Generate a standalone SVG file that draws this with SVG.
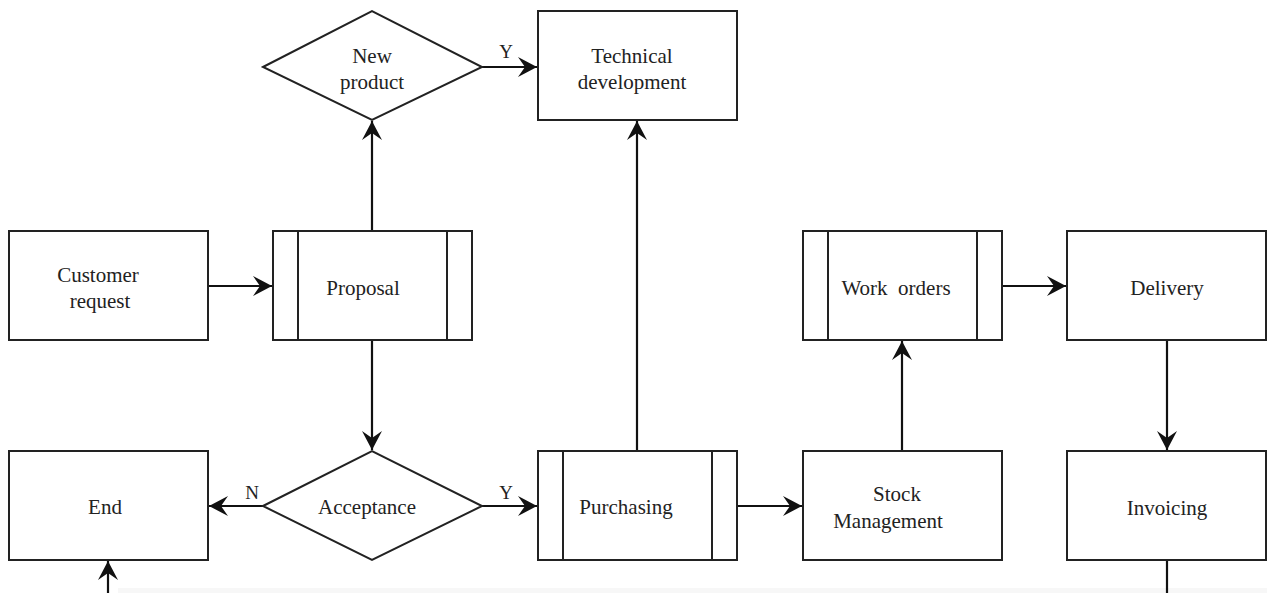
<svg xmlns="http://www.w3.org/2000/svg" width="1267" height="593" viewBox="0 0 1267 593">
<style>
.box{fill:#fff;stroke:#222;stroke-width:2}
.ln{fill:none;stroke:#222;stroke-width:2}
.t{font-family:"Liberation Serif","Times New Roman",serif;font-size:21px;fill:#222;text-anchor:middle}
.lbl{font-family:"Liberation Serif","Times New Roman",serif;font-size:19px;fill:#222;text-anchor:middle}
.c{fill:none;stroke:#111;stroke-width:2.2}
</style>
<defs>
<marker id="ah" markerUnits="userSpaceOnUse" markerWidth="24" markerHeight="24" viewBox="-20 -12 24 24" refX="0" refY="0" orient="auto">
<path d="M0,0 L-19,-10 L-12,0 L-19,10 Z" fill="#111"/>
</marker>
</defs>
<rect width="1267" height="593" fill="#fff"/>
<rect x="118" y="588" width="1149" height="5" fill="#f7f7f7"/>
<g id="connectors">
<path class="c" d="M482,67 H537" marker-end="url(#ah)"/>
<path class="c" d="M208,286 H272" marker-end="url(#ah)"/>
<path class="c" d="M372,231 V121" marker-end="url(#ah)"/>
<path class="c" d="M372,340 V450" marker-end="url(#ah)"/>
<path class="c" d="M263,506 H209" marker-end="url(#ah)"/>
<path class="c" d="M482,506 H537" marker-end="url(#ah)"/>
<path class="c" d="M637,451 V121" marker-end="url(#ah)"/>
<path class="c" d="M737,506 H802" marker-end="url(#ah)"/>
<path class="c" d="M902,451 V341" marker-end="url(#ah)"/>
<path class="c" d="M1002,286 H1066" marker-end="url(#ah)"/>
<path class="c" d="M1167,340 V450" marker-end="url(#ah)"/>
<path class="c" d="M1167,560 V593"/>
<path class="c" d="M108,593 V561" marker-end="url(#ah)"/>
<text class="lbl" x="506" y="58">Y</text>
<text class="lbl" x="252" y="499">N</text>
<text class="lbl" x="506" y="499">Y</text>
</g>
<g id="new-product">
<polygon class="box" points="263,67 372,11 482,67 372,120"/>
<text class="t" x="372" y="63">New</text>
<text class="t" x="372" y="89">product</text>
</g>
<g id="technical-development">
<rect class="box" x="538" y="11" width="199" height="109"/>
<text class="t" x="632" y="63">Technical</text>
<text class="t" x="632" y="89">development</text>
</g>
<g id="customer-request">
<rect class="box" x="9" y="231" width="199" height="109"/>
<text class="t" x="98" y="282">Customer</text>
<text class="t" x="100" y="308">request</text>
</g>
<g id="proposal">
<rect class="box" x="273" y="231" width="199" height="109"/>
<line class="ln" x1="298" y1="231" x2="298" y2="340"/>
<line class="ln" x1="447" y1="231" x2="447" y2="340"/>
<text class="t" x="363" y="295">Proposal</text>
</g>
<g id="end">
<rect class="box" x="9" y="451" width="199" height="109"/>
<text class="t" x="105" y="514">End</text>
</g>
<g id="acceptance">
<polygon class="box" points="263,506 372,451 482,506 372,560"/>
<text class="t" x="367" y="514">Acceptance</text>
</g>
<g id="purchasing">
<rect class="box" x="538" y="451" width="199" height="109"/>
<line class="ln" x1="563" y1="451" x2="563" y2="560"/>
<line class="ln" x1="712" y1="451" x2="712" y2="560"/>
<text class="t" x="626" y="514">Purchasing</text>
</g>
<g id="stock-management">
<rect class="box" x="803" y="451" width="199" height="109"/>
<text class="t" x="897" y="501">Stock</text>
<text class="t" x="888" y="528">Management</text>
</g>
<g id="work-orders">
<rect class="box" x="803" y="231" width="199" height="109"/>
<line class="ln" x1="828" y1="231" x2="828" y2="340"/>
<line class="ln" x1="977" y1="231" x2="977" y2="340"/>
<text class="t" x="896" y="295" xml:space="preserve" style="white-space:pre">Work  orders</text>
</g>
<g id="delivery">
<rect class="box" x="1067" y="231" width="199" height="109"/>
<text class="t" x="1167" y="295">Delivery</text>
</g>
<g id="invoicing">
<rect class="box" x="1067" y="451" width="199" height="109"/>
<text class="t" x="1167" y="515">Invoicing</text>
</g>
</svg>
